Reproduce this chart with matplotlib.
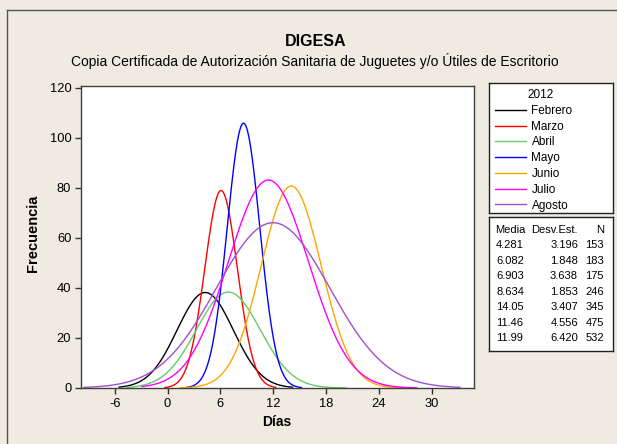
import numpy as np
import matplotlib.pyplot as plt
from matplotlib.lines import Line2D

plt.rcParams['font.family'] = ['Liberation Sans', 'DejaVu Sans']
plt.rcParams['axes.unicode_minus'] = False

# Minitab summary per month (2012)
meses = ['Febrero', 'Marzo', 'Abril', 'Mayo', 'Junio', 'Julio', 'Agosto']
media = [4.281, 6.082, 6.903, 8.634, 14.05, 11.46, 11.99]
desv = [3.196, 1.848, 3.638, 1.853, 3.407, 4.556, 6.420]
n = [153, 183, 175, 246, 345, 475, 532]
# approx data range of each month (where the fitted curve is drawn)
x_min = [-5.5, -0.3, -4.7, 2.2, 1.5, -2.9, -9.5]
x_max = [14.2, 12.3, 20.3, 15.2, 26.7, 28.3, 33.2]
colores = ['#000000', '#ff0000', '#66cc66', '#0000ff', '#ffa500', '#ff00ff', '#a050d0']
ancho_clase = 2.0

xticks = [-6, 0, 6, 12, 18, 24, 30]
yticks = [0, 20, 40, 60, 80, 100, 120]

bg = '#efebe1'
W, H = 617, 444
fig = plt.figure(figsize=(W / 100, H / 100), dpi=100, facecolor=bg)

# outer frame (left/top edges visible)
fig.add_artist(Line2D([7 / W, 7 / W], [0, 1 - 10 / H], color='#555555', lw=1, transform=fig.transFigure))
fig.add_artist(Line2D([7 / W, 1], [1 - 10 / H, 1 - 10 / H], color='#555555', lw=1, transform=fig.transFigure))

ax = fig.add_axes([81 / W, 1 - 388 / H, (474.5 - 81) / W, (388 - 86) / H])
ax.set_facecolor('white')

lineas = []
for i in range(len(meses)):
    x = np.linspace(x_min[i], x_max[i], 300)
    y = n[i] * ancho_clase * np.exp(-0.5 * ((x - media[i]) / desv[i]) ** 2) / (desv[i] * np.sqrt(2 * np.pi))
    l, = ax.plot(x, y, color=colores[i], lw=1.0)
    lineas.append(l)

ax.set_xlim(-9.83, 34.87)
ax.set_ylim(0, 120.8)
ax.set_xticks(xticks)
ax.set_yticks(yticks)
ax.tick_params(direction='out', length=4, width=1, color='#333333', labelsize=9.3, pad=3)
for s in ax.spines.values():
    s.set_color('#404040')
    s.set_linewidth(1)

fig.text(277 / W, 1 - 421.5 / H, 'Días', fontsize=10, fontweight='bold', ha='center', va='center')
fig.text(33 / W, 1 - 233 / H, 'Frecuencia', fontsize=10.5, fontweight='bold', ha='center', va='center', rotation=90)
fig.text(316 / W, 1 - 42 / H, 'DIGESA', fontsize=11.5, fontweight='bold', ha='center', va='center')
fig.text(315 / W, 1 - 61 / H,
         'Copia Certificada de Autorización Sanitaria de Juguetes y/o Útiles de Escritorio',
         fontsize=10, ha='center', va='center')

# legend box
lax = fig.add_axes([489 / W, 1 - 213 / H, 124 / W, 130 / H])
lax.set_xticks([])
lax.set_yticks([])
lax.set_facecolor('white')
for s in lax.spines.values():
    s.set_color('#222222')
    s.set_linewidth(1)
fig.text(541 / W, 1 - 95 / H, '2012', fontsize=8.5, ha='center', va='center')
leg = lax.legend(lineas, meses, loc='upper left', frameon=False,
                 bbox_to_anchor=(0, 1 - 16 / 130), bbox_transform=lax.transAxes,
                 fontsize=8.5, handlelength=2.6, handletextpad=0.5,
                 labelspacing=0.32, borderaxespad=0.2, borderpad=0.3)

# table box
tax = fig.add_axes([489 / W, 1 - 351 / H, 124 / W, (351 - 217) / H])
tax.set_xticks([])
tax.set_yticks([])
tax.set_facecolor('white')
tax.set_xlim(489, 613)
tax.set_ylim(351, 217)
for s in tax.spines.values():
    s.set_color('#222222')
    s.set_linewidth(1)


def fmt(v):
    dec = 4 - len(str(int(v)))
    return f'{v:.{dec}f}'


fs = 8
tax.text(510, 230, 'Media', fontsize=fs, ha='center', va='center')
tax.text(578, 230, 'Desv.Est.', fontsize=fs, ha='right', va='center')
tax.text(604, 230, 'N', fontsize=fs, ha='right', va='center')
for i in range(len(meses)):
    yy = 245.3 + i * 15.5
    tax.text(510, yy, fmt(media[i]), fontsize=fs, ha='center', va='center')
    tax.text(578, yy, fmt(desv[i]), fontsize=fs, ha='right', va='center')
    tax.text(604, yy, str(n[i]), fontsize=fs, ha='right', va='center')

fig.savefig('out.png', dpi=100, facecolor=bg)
